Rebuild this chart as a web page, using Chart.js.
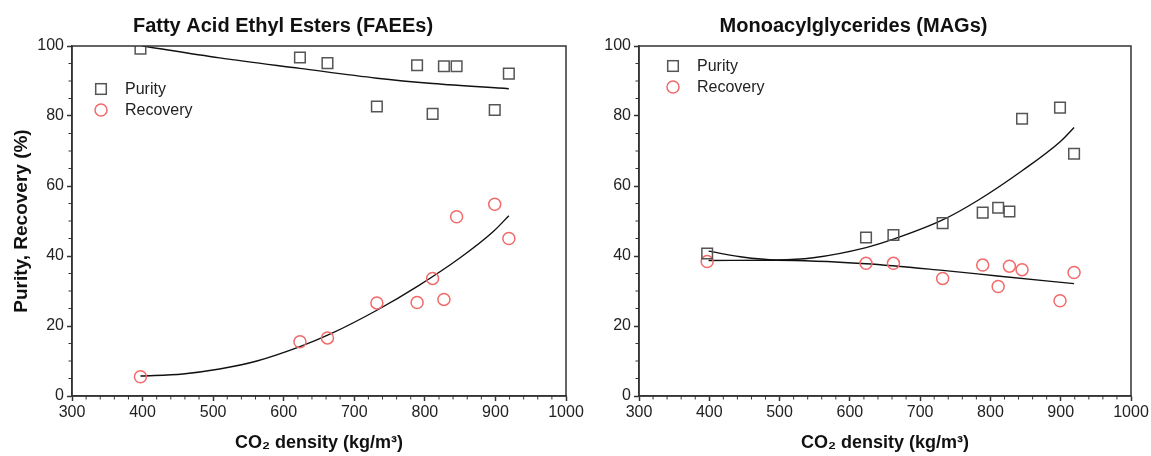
<!DOCTYPE html>
<html>
<head>
<meta charset="utf-8">
<script src="https://cdn.jsdelivr.net/npm/chart.js@4/dist/chart.umd.min.js"></script>
<style>
  html, body { margin: 0; padding: 0; background: #fff; }
  .wrap { position: relative; width: 1151px; height: 456px; }
  canvas { display: block; position: absolute; top: 0; }
  #faee { left: 0; z-index: 2; }
  #mag { left: 576px; z-index: 1; }
</style>
</head>
<body>
<div class="wrap">
  <canvas id="faee" width="600" height="456"></canvas>
  <canvas id="mag" width="575" height="456"></canvas>
</div>
<script>
// CO2 density of each run (kg/m3)
const density = [397, 623, 662, 732, 789, 811, 827, 845, 899, 919];

// FAEEs
const faeePurity   = [99.2, 96.7, 95.1, 82.7, 94.5, 80.6, 94.2, 94.2, 81.7, 92.1];
const faeeRecovery = [5.5, 15.5, 16.6, 26.6, 26.7, 33.6, 27.6, 51.2, 54.8, 45.0];
const faeePurityFitX   = [400, 509, 623, 732, 811, 919];
const faeePurityFitY   = [100, 96.6, 93.6, 90.8, 89.3, 87.8];
const faeeRecoveryFitX = [397, 457, 509, 562, 623, 667, 732, 790, 850, 897, 919];
const faeeRecoveryFitY = [5.7, 6.3, 7.7, 10.0, 14.1, 17.8, 24.5, 31.4, 39.5, 47.0, 51.5];

// MAGs
const magPurity   = [40.7, 45.3, 46.0, 49.4, 52.4, 53.8, 52.7, 79.2, 82.4, 69.2];
const magRecovery = [38.4, 37.9, 37.9, 33.6, 37.4, 31.3, 37.1, 36.1, 27.2, 35.3];
const magPurityFitX   = [399, 444, 496, 548, 623, 662, 732, 783, 846, 900, 919];
const magPurityFitY   = [41.4, 39.8, 38.9, 39.5, 42.4, 44.8, 50.3, 56.0, 64.5, 72.8, 76.7];
const magRecoveryFitX = [399, 496, 623, 732, 810, 919];
const magRecoveryFitY = [38.7, 38.8, 37.8, 35.9, 34.3, 32.1];

const xTicks = [300, 400, 500, 600, 700, 800, 900, 1000];
const yTicks = [0, 20, 40, 60, 80, 100];

const FONT = 'Liberation Sans, Arial, sans-serif';
const AXIS = '#333';
const SQUARE = '#555';
const CIRCLE = '#f26a6a';

const pts = (xs, ys) => xs.map((x, i) => ({ x, y: ys[i] }));

// frame + minor ticks
const framePlugin = {
  id: 'frame',
  afterDraw(chart) {
    const { ctx, chartArea: a, scales } = chart;
    ctx.save();
    ctx.strokeStyle = AXIS;
    ctx.lineWidth = 1.5;
    ctx.strokeRect(a.left, a.top, a.right - a.left, a.bottom - a.top);
    ctx.lineWidth = 1;
    ctx.beginPath();
    for (let v = 300; v <= 1000; v += 20) {
      if (v % 100 === 0) continue;
      const px = scales.x.getPixelForValue(v);
      ctx.moveTo(px, a.bottom);
      ctx.lineTo(px, a.bottom + 3.5);
    }
    for (let v = 0; v <= 100; v += 5) {
      if (v % 20 === 0) continue;
      const py = scales.y.getPixelForValue(v);
      ctx.moveTo(a.left, py);
      ctx.lineTo(a.left - 3.5, py);
    }
    ctx.stroke();
    ctx.restore();
  }
};

// legend drawn inside the plot area
const legendPlugin = {
  id: 'innerLegend',
  afterDraw(chart, args, opts) {
    const { ctx, chartArea: a } = chart;
    const x0 = a.left + opts.dx, y0 = a.top + opts.dy;
    ctx.save();
    ctx.lineWidth = 1.5;
    ctx.strokeStyle = SQUARE;
    ctx.strokeRect(x0 - 5.3, y0 - 5.3, 10.6, 10.6);
    ctx.strokeStyle = CIRCLE;
    ctx.beginPath();
    ctx.arc(x0, y0 + 21, 6, 0, Math.PI * 2);
    ctx.stroke();
    ctx.fillStyle = '#222';
    ctx.font = '16px ' + FONT;
    ctx.textBaseline = 'middle';
    ctx.fillText('Purity', x0 + 24, y0 + 1);
    ctx.fillText('Recovery', x0 + 24, y0 + 22);
    ctx.restore();
  }
};

function makeChart(id, title, purity, recovery, pFitX, pFitY, rFitX, rFitY, opt) {
  return new Chart(document.getElementById(id), {
    type: 'scatter',
    data: {
      datasets: [
        { label: 'Purity', data: pts(density, purity), pointStyle: 'rect', pointRadius: 7.5,
          borderColor: SQUARE, backgroundColor: 'rgba(0,0,0,0)', borderWidth: 1.5 },
        { label: 'Recovery', data: pts(density, recovery), pointStyle: 'circle', pointRadius: 6,
          borderColor: CIRCLE, backgroundColor: 'rgba(0,0,0,0)', borderWidth: 1.5 },
        { label: 'fit', data: pts(pFitX, pFitY), showLine: true, pointRadius: 0,
          borderColor: '#111', borderWidth: 1.4, cubicInterpolationMode: 'monotone' },
        { label: 'fit', data: pts(rFitX, rFitY), showLine: true, pointRadius: 0,
          borderColor: '#111', borderWidth: 1.4, cubicInterpolationMode: 'monotone' }
      ]
    },
    options: {
      responsive: false,
      animation: false,
      layout: { padding: { left: 0, right: opt.padRight, top: 0, bottom: 0 } },
      plugins: {
        legend: { display: false },
        tooltip: { enabled: false },
        title: {
          display: true, text: title, color: '#111',
          font: { family: FONT, size: 20, weight: 'bold' },
          padding: { top: 14, bottom: 8 }
        },
        innerLegend: { dx: opt.legendDx, dy: opt.legendDy }
      },
      scales: {
        x: {
          type: 'linear', min: 300, max: 1000,
          afterBuildTicks: s => { s.ticks = xTicks.map(v => ({ value: v })); },
          afterFit: s => { s.height = 60; s.paddingLeft = 0; s.paddingRight = 0; },
          ticks: { color: '#222', font: { family: FONT, size: 16 }, padding: 2, maxRotation: 0,
                   callback: v => String(v) },
          grid: { drawOnChartArea: false, drawTicks: true, tickLength: 5, tickWidth: 1.5, tickColor: AXIS },
          border: { color: AXIS, width: 1.5 },
          title: { display: true, text: 'CO₂ density (kg/m³)', color: '#111',
                   font: { family: FONT, size: 18, weight: 'bold' }, padding: { top: 8, bottom: 2 } }
        },
        y: {
          min: 0, max: 100,
          afterBuildTicks: s => { s.ticks = yTicks.map(v => ({ value: v })); },
          afterFit: s => { s.width = opt.yWidth; s.paddingTop = 0; s.paddingBottom = 0; },
          ticks: { color: '#222', font: { family: FONT, size: 16 }, padding: 3,
                   callback: v => String(v) },
          grid: { drawOnChartArea: false, drawTicks: true, tickLength: 5, tickWidth: 1.5, tickColor: AXIS },
          border: { color: AXIS, width: 1.5 },
          title: { display: opt.yTitle, text: 'Purity, Recovery (%)', color: '#111',
                   font: { family: FONT, size: 19, weight: 'bold' }, padding: { top: 10, bottom: 4 } }
        }
      }
    },
    plugins: [framePlugin, legendPlugin]
  });
}

// left canvas is a bit wider than its half so the last tick label is not cut
makeChart('faee', 'Fatty Acid Ethyl Esters (FAEEs)', faeePurity, faeeRecovery,
  faeePurityFitX, faeePurityFitY, faeeRecoveryFitX, faeeRecoveryFitY,
  { padRight: 34, yWidth: 72, yTitle: true, legendDx: 29, legendDy: 43 });

makeChart('mag', 'Monoacylglycerides (MAGs)', magPurity, magRecovery,
  magPurityFitX, magPurityFitY, magRecoveryFitX, magRecoveryFitY,
  { padRight: 20, yWidth: 63, yTitle: false, legendDx: 34, legendDy: 20 });
</script>
</body>
</html>
